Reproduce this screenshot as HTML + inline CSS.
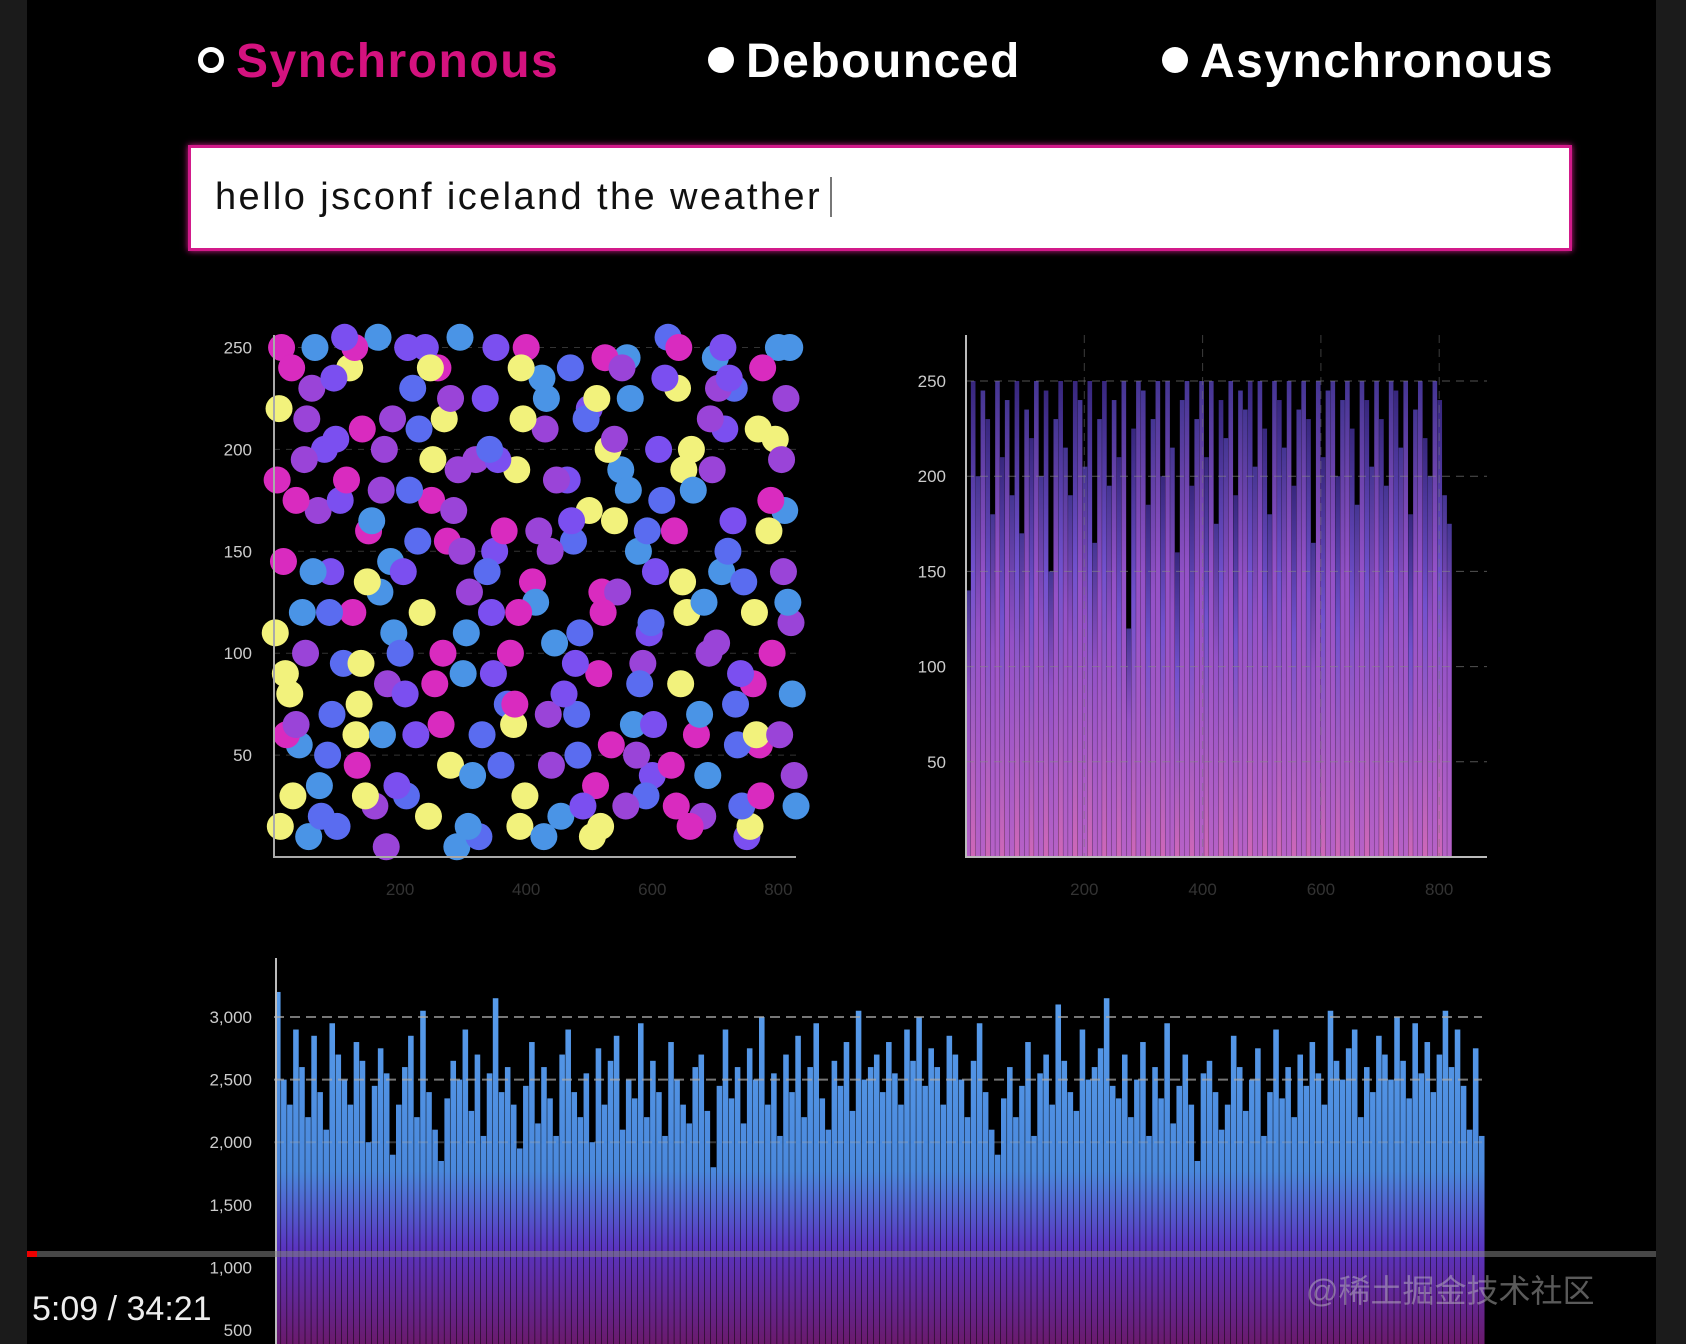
<!DOCTYPE html>
<html><head><meta charset="utf-8"><style>
html,body{margin:0;padding:0;background:#1b1b1b;}
#wrap{position:relative;width:1686px;height:1344px;overflow:hidden;background:#1b1b1b;font-family:"Liberation Sans","Noto Sans CJK SC",sans-serif;}
#stage{position:absolute;left:27px;top:0;width:1629px;height:1344px;background:#000;}
.leg{position:absolute;top:34px;font-size:48px;font-weight:bold;color:#fff;letter-spacing:1.5px}
.dot{display:inline-block;width:26px;height:26px;border-radius:50%;background:#fff;margin-right:12px;vertical-align:4px}
#inp{position:absolute;left:188px;top:145px;width:1378px;height:100px;background:#fff;border:3px solid #d21a8a;box-shadow:0 0 6px #d21a8a}
#inptext{position:absolute;left:24px;top:28px;font-size:38px;color:#111;letter-spacing:2.4px}
#caret{display:inline-block;width:2px;height:40px;background:#777;vertical-align:-8px;margin-left:8px}
svg{position:absolute;left:0;top:0}
</style></head><body>
<div id="wrap">
<div id="stage"></div>
<div class="leg" style="left:198px;color:#d4127f"><span class="dot" style="border:5px solid #fff;background:#000;width:16px;height:16px"></span>Synchronous</div>
<div class="leg" style="left:708px"><span class="dot"></span>Debounced</div>
<div class="leg" style="left:1162px"><span class="dot"></span>Asynchronous</div>
<div id="inp"><div id="inptext">hello jsconf iceland the weather<span id="caret"></span></div></div>
<svg id="chart" width="1686" height="1344"></svg>
<div style="position:absolute;left:27px;top:1251px;width:1629px;height:6px;background:rgba(130,130,130,0.55)"></div>
<div style="position:absolute;left:27px;top:1251px;width:10px;height:6px;background:#e00"></div>
<div style="position:absolute;left:32px;top:1290px;font-size:34px;color:#eee">5:09 / 34:21</div>
<div style="position:absolute;left:1306px;top:1266px;font-size:32px;color:rgba(200,200,200,0.45)">@稀土掘金技术社区</div>
</div>
<script>
const scatterX=[12,45,80,130,170,210,260,300,350,390,430,480,520,560,600,650,690,730,770,810,
25,60,100,150,190,240,280,320,370,410,455,500,540,585,625,670,710,750,795,820,
5,40,90,120,160,200,250,290,335,380,420,470,510,550,595,640,680,720,760,800,
30,70,110,140,185,225,270,310,360,400,445,490,530,575,615,660,700,740,785,825,
15,55,95,135,175,215,255,295,345,385,435,475,515,565,605,645,695,735,775,815,
8,50,85,125,165,205,245,285,330,375,425,465,505,545,590,635,675,715,755,805,
20,65,105,145,180,230,275,315,355,395,440,485,525,570,610,655,705,745,790,828,
2,35,75,115,155,195,235,280,325,365,415,460,500,540,580,630,665,712,765,812,
28,62,98,138,178,220,265,305,352,398,448,495,535,578,620,662,702,742,788,822,
10,48,88,128,168,208,248,292,338,382,428,472,512,558,598,642,688,728,768,808,
35,72,112,148,188,228,268,308,348,392,438,482,522,562,602,648,692,732,772,818,
18,52,92,132,172,212,252,298,342,388,432,478,518,552,592,638,682,722,762,802];
const scatterY=[250,120,200,60,180,30,240,90,150,15,210,70,130,245,40,190,100,230,55,170,
80,230,15,160,110,250,45,195,75,135,20,220,165,95,255,60,140,10,205,115,
185,55,140,240,25,100,175,5,225,65,160,240,35,190,110,230,20,150,85,250,
30,170,95,210,145,60,215,130,45,250,105,25,200,50,175,15,245,90,160,40,
145,10,235,75,200,180,85,255,120,190,70,155,90,225,140,85,190,55,240,125,
220,100,50,120,255,140,20,170,60,100,235,185,10,130,30,160,70,210,15,195,
60,250,175,30,85,210,155,40,195,215,45,110,245,65,200,120,230,135,100,25,
110,65,20,185,165,35,120,225,10,160,125,80,170,205,85,45,180,250,60,225,
240,140,205,95,5,230,65,110,250,30,185,215,55,150,235,200,105,25,175,80,
15,195,120,250,130,80,240,190,140,75,10,165,225,25,115,250,40,165,210,140,
175,35,255,135,215,155,100,15,90,240,150,50,120,180,65,135,215,75,30,250,
90,215,70,45,60,250,195,150,200,120,225,95,15,240,160,25,125,235,120,60];
const scatterYTicks=[50,100,150,200,250];
const xTicks=[200,400,600,800];
const barVals=[140,250,200,245,230,180,250,210,240,190,250,170,235,220,250,200,245,150,230,250,
215,190,250,240,205,250,165,230,250,195,240,210,250,120,225,250,245,185,230,250,
200,250,215,160,240,250,195,230,250,210,250,175,240,220,250,190,245,235,250,205,
250,225,180,250,240,215,250,195,235,250,230,165,250,210,245,250,200,240,250,225,
185,250,240,205,250,230,195,250,245,215,250,180,235,250,220,200,250,240,190,175];
const barYTicks=[50,100,150,200,250];
const bottomVals=[3200,2500,2300,2900,2600,2200,2850,2400,2100,2950,2700,2500,2300,2800,2650,2000,2450,2750,2550,1900,
2300,2600,2850,2200,3050,2400,2100,1850,2350,2650,2500,2900,2250,2700,2050,2550,3150,2400,2600,2300,
1950,2450,2800,2150,2600,2350,2050,2700,2900,2400,2200,2550,2000,2750,2300,2650,2850,2100,2500,2350,
2950,2200,2650,2400,2050,2800,2500,2300,2150,2600,2700,2250,1800,2450,2900,2350,2600,2150,2750,2500,
3000,2300,2550,2050,2700,2400,2850,2200,2600,2950,2350,2100,2650,2450,2800,2250,3050,2500,2600,2700,
2400,2800,2550,2300,2900,2650,3000,2450,2750,2600,2300,2850,2700,2500,2200,2650,2950,2400,2100,1900,
2350,2600,2200,2450,2800,2050,2550,2700,2300,3100,2650,2400,2250,2900,2500,2600,2750,3150,2450,2350,
2700,2200,2500,2800,2050,2600,2350,2950,2150,2450,2700,2300,1850,2550,2650,2400,2100,2300,2850,2600,
2250,2500,2750,2050,2400,2900,2350,2600,2200,2700,2450,2800,2550,2300,3050,2650,2500,2750,2900,2200,
2600,2400,2850,2700,2500,3000,2650,2350,2950,2550,2800,2400,2700,3050,2600,2900,2450,2100,2750,2050];
const bottomYTicks=[500,1000,1500,2000,2500,3000];

const NS='http://www.w3.org/2000/svg';
const svg=document.getElementById('chart');
function mk(tag,attrs,parent){const e=document.createElementNS(NS,tag);for(const k in attrs)e.setAttribute(k,attrs[k]);(parent||svg).appendChild(e);return e;}
const defs=mk('defs',{});
const g1=mk('linearGradient',{id:'gBar',x1:0,y1:1,x2:0,y2:0},defs);
mk('stop',{offset:'0','stop-color':'#c66ad8'},g1);mk('stop',{offset:'0.6','stop-color':'#a058d8'},g1);mk('stop',{offset:'1','stop-color':'#4a3aa0'},g1);
const g2=mk('linearGradient',{id:'gBar2',x1:0,y1:1,x2:0,y2:0},defs);
mk('stop',{offset:'0','stop-color':'#e070c8'},g2);mk('stop',{offset:'0.6','stop-color':'#7c58e0'},g2);mk('stop',{offset:'1','stop-color':'#3c2a88'},g2);
const g3=mk('linearGradient',{id:'gBot',gradientUnits:'userSpaceOnUse',x1:0,y1:1344,x2:0,y2:960},defs);
mk('stop',{offset:'0','stop-color':'#6a1a6c'},g3);mk('stop',{offset:'0.25','stop-color':'#5a34c0'},g3);mk('stop',{offset:'0.45','stop-color':'#4a88dc'},g3);mk('stop',{offset:'1','stop-color':'#5aa0ee'},g3);

// Scatter
const sx=v=>274+v/200*126.1, sy=v=>857-v/50*101.9;
const sg=mk('g',{});


const cols=['#d92bbf','#4a94e6','#7b4ff0','#f2f27c','#9a44d8','#5a6cf0'];
scatterYTicks.forEach(t=>{
 const l=mk('line',{x1:274,x2:796,y1:sy(t),y2:sy(t),stroke:'#333','stroke-dasharray':'6 6'},sg);
 
 const tx=mk('text',{x:252,y:sy(t)+6,fill:'#ccc','font-size':17,'text-anchor':'end'},sg);tx.textContent=t;
 
});
xTicks.forEach(t=>{
 const tx=mk('text',{x:sx(t),y:895,fill:'#333','font-size':17,'text-anchor':'middle'},sg);tx.textContent=t;
 
});
scatterX.forEach((x,i)=>{
 const c=mk('circle',{cx:sx(x),cy:sy(scatterY[i]),r:13.5,fill:cols[(i*7+Math.floor(i/20))%6]},sg);
 
});
mk('line',{x1:274,x2:274,y1:335,y2:858,stroke:'#aaa','stroke-width':2},sg);
mk('line',{x1:273,x2:796,y1:857,y2:857,stroke:'#aaa','stroke-width':2},sg);

// Top-right bars
const bx=v=>966+v/200*118.3, by=v=>857-v/50*95.2;
const bg=mk('g',{});


const bw=(1452-966)/barVals.length;
barVals.forEach((v,i)=>{
 const r=mk('rect',{x:966+i*bw,y:by(v),width:bw*0.95,height:by(0)-by(v),fill:i%3==1?'url(#gBar2)':'url(#gBar)',opacity:0.92},bg);
 
});
barYTicks.forEach(t=>{
 const l=mk('line',{x1:966,x2:1487,y1:by(t),y2:by(t),stroke:'#888','stroke-dasharray':'8 6','stroke-opacity':0.6},bg);
 
 const tx=mk('text',{x:946,y:by(t)+6,fill:'#ccc','font-size':17,'text-anchor':'end'},bg);tx.textContent=t;
 
});
xTicks.forEach(t=>{
 const l=mk('line',{x1:bx(t),x2:bx(t),y1:335,y2:857,stroke:'#777','stroke-dasharray':'8 6','stroke-opacity':0.5},bg);
 
 const tx=mk('text',{x:bx(t),y:895,fill:'#333','font-size':17,'text-anchor':'middle'},bg);tx.textContent=t;
 
});
mk('line',{x1:966,x2:966,y1:335,y2:858,stroke:'#bbb','stroke-width':2},bg);
mk('line',{x1:965,x2:1487,y1:857,y2:857,stroke:'#bbb','stroke-width':2},bg);

// Bottom bars
const ty=v=>1392.6-v/500*62.6;
const tg=mk('g',{});


const tw=(1484-274)/bottomVals.length;
bottomVals.forEach((v,i)=>{
 const r=mk('rect',{x:275+i*tw,y:ty(v),width:tw*0.92,height:1344-ty(v),fill:'url(#gBot)'},tg);
 
});
bottomYTicks.forEach(t=>{
 if(t>=2000){const l=mk('line',{x1:274,x2:1482,y1:ty(t),y2:ty(t),stroke:'#aaa','stroke-dasharray':'10 6','stroke-opacity':t==2000?0.3:0.7,'stroke-width':2},tg);
 }
 const tx=mk('text',{x:252,y:ty(t)+6,fill:'#ccc','font-size':17,'text-anchor':'end'},tg);tx.textContent=t.toLocaleString('en-US');
 
});
mk('line',{x1:276,x2:276,y1:958,y2:1344,stroke:'#bbb','stroke-width':2},tg);
</script>
</body></html>
